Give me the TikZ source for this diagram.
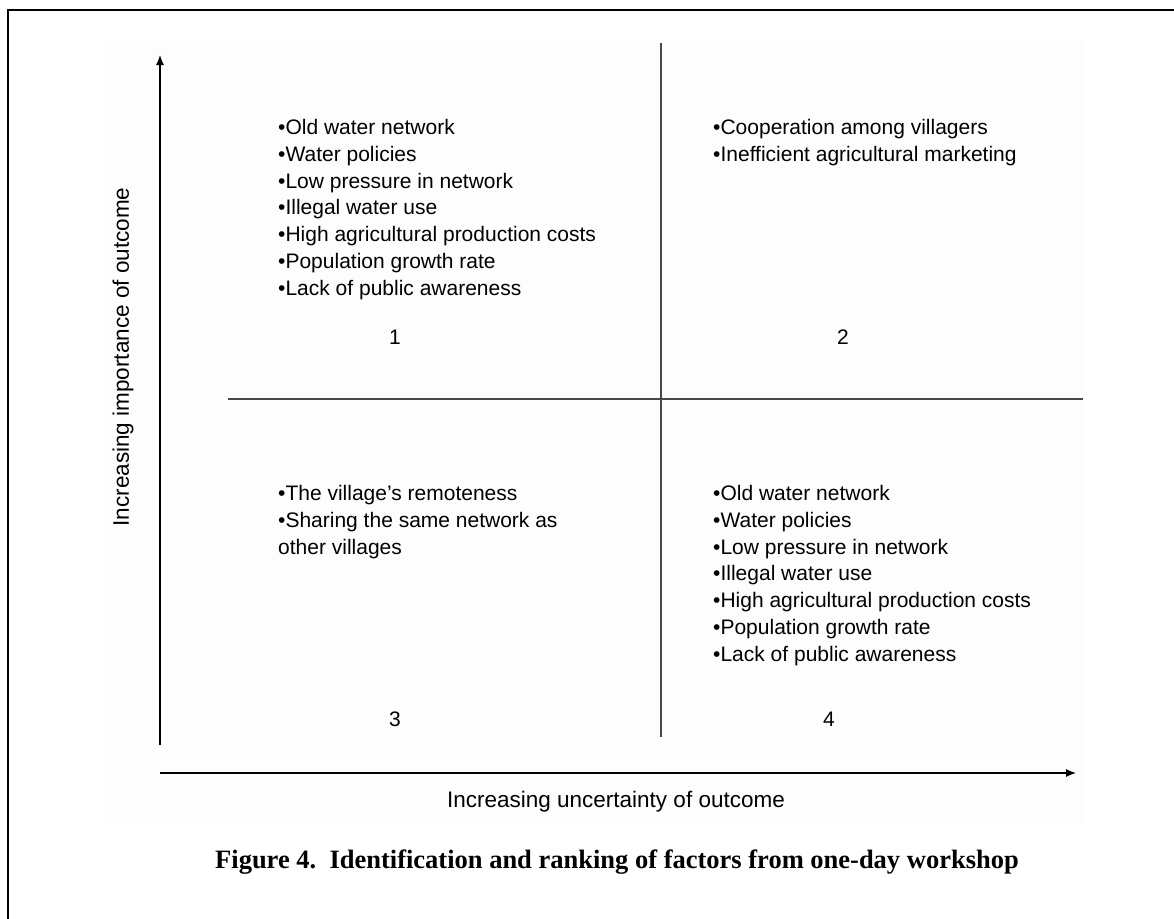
\documentclass[tikz,border=0pt]{standalone}
\usepackage{fontspec}
\setmainfont{Liberation Sans}
\newfontfamily\capfont{Liberation Serif}
\usetikzlibrary{arrows.meta}
\begin{document}
\begin{tikzpicture}[x=1pt,y=-1pt,
  lbl/.style={inner sep=0pt, align=left, anchor=north west, font=\fontsize{21}{26.8}\selectfont},
  num/.style={inner sep=0pt, font=\fontsize{21}{26}\selectfont},
  axislbl/.style={inner sep=0pt, font=\fontsize{22.5}{27}\selectfont},
  axis/.style={line width=1.2pt, -{Latex[length=10pt,width=8pt]}},
  divider/.style={line width=1.6pt, draw=black!72},
  frame/.style={line width=2.5pt}]
\useasboundingbox (0,0) rectangle (1174,918);
\clip (0,0) rectangle (1174,918);
\fill[black!0.8] (105,42) rectangle (1085,822);
\draw[frame] (8,940) -- (8,10) -- (1190,10);
% dividers
\coordinate (vt) at (661,43);
\coordinate (vb) at (661,737);
\coordinate (hl) at (228,399);
\coordinate (hr) at (1083,399);
\draw[divider] (vt) -- (vb);
\draw[divider] (hl) -- (hr);
% axes
\coordinate (o) at (160,773);
\coordinate (ys) at (160,745);
\coordinate (ye) at (160,55);
\coordinate (xe) at (1076,773);
\draw[axis] (ys) -- (ye);
\draw[axis] (o) -- (xe);
% quadrant texts
\node[lbl] (q1) at (278,119) {•Old water network\\•Water policies\\•Low pressure in network\\•Illegal water use\\•High agricultural production costs\\•Population growth rate\\•Lack of public awareness};
\node[lbl] (q2) at (713,119) {•Cooperation among villagers\\•Inefficient agricultural marketing};
\node[lbl] (q3) at (278,485) {•The village’s remoteness\\•Sharing the same network as\\other villages};
\node[lbl] (q4) at (713,485) {•Old water network\\•Water policies\\•Low pressure in network\\•Illegal water use\\•High agricultural production costs\\•Population growth rate\\•Lack of public awareness};
\node[num] (n1) at (395,337) {1};
\node[num] (n2) at (843,337) {2};
\node[num] (n3) at (395,719) {3};
\node[num] (n4) at (829,719) {4};
\node[axislbl, rotate=90] (ylab) at (123,357) {Increasing importance of outcome};
\node[axislbl] (xlab) at (616,802) {Increasing uncertainty of outcome};
\node[inner sep=0pt, font=\capfont\bfseries\fontsize{26.5}{30}\selectfont] (cap) at (617,862) {Figure 4.\ \ Identification and ranking of factors from one-day workshop};
\end{tikzpicture}
\end{document}
